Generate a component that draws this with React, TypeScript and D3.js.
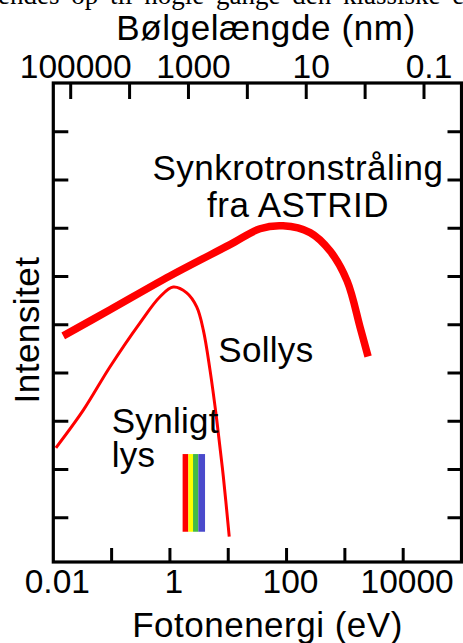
import React from "react";
import * as d3 from "d3";

// Photon energy (eV) and relative log-intensity (arbitrary units)
const synchrotronEnergy = [0.0148, 0.094, 1.0, 10.7, 35, 87, 253, 557, 1091, 1824, 2500];
const synchrotronIntensity = [4.77, 5.31, 6.01, 6.66, 6.99, 7.05, 6.91, 6.53, 5.91, 4.95, 4.34];

const sunEnergy = [0.0111, 0.0327, 0.094, 0.307, 0.676, 1.14, 1.94, 2.88, 3.74, 4.87, 6.35, 8.24, 10.4];
const sunIntensity = [2.45, 3.23, 4.13, 5.04, 5.58, 5.78, 5.66, 5.37, 4.89, 4.06, 3.03, 1.85, 0.61];

// visible-light band (eV edges of the colour stripes) and its intensity extent
const visibleEdges = [1.65, 2.07, 2.49, 3.07, 4.0];
const visibleColors = ["#ff0000", "#ffff00", "#44bb44", "#4a4acc"];
const visibleRange = [0.71, 2.32];

const energyTicks = [0.01, 0.1, 1, 10, 100, 1000, 10000];
const energyLabels = ["0.01", "1", "100", "10000"];
const wavelengthTicks = [100000, 10000, 1000, 100, 10, 1, 0.1];
const wavelengthLabels = ["100000", "1000", "10", "0.1"];
const intensityTicks = [1, 2, 3, 4, 5, 6, 7, 8, 9];

const W = 463;
const H = 643;
const left = 53.3;
const right = 461.5;
const top = 83;
const bottom = 562;
const font = "'Liberation Sans', Arial, Helvetica, sans-serif";

export default function App() {
  const x = d3.scaleLog().domain([0.01, 100000]).range([left, right]);
  const xTop = d3.scaleLog().domain([100000, 0.1]).range([70.7, 424]);
  const y = d3.scaleLinear().domain([0, 10]).range([566, 83.5]);

  const line = d3
    .line<[number, number]>()
    .x((d) => x(d[0]))
    .y((d) => y(d[1]))
    .curve(d3.curveCatmullRom.alpha(0.5));

  const synPts = synchrotronEnergy.map((e, i) => [e, synchrotronIntensity[i]] as [number, number]);
  const sunPts = sunEnergy.map((e, i) => [e, sunIntensity[i]] as [number, number]);

  const tickLen = 14;
  const textStyle = { fontFamily: font, fill: "#000" } as React.CSSProperties;

  return (
    <div>
      <style>{`body{margin:0;background:#fff}`}</style>
      <svg width={W} height={H} style={{ display: "block" }}>
        <rect x={0} y={0} width={W} height={H} fill="#fff" />
        {/* cut-off line of body text at the very top */}
        <text
          x={-2}
          y={3.5}
          fontFamily="'Liberation Serif', 'Times New Roman', serif"
          fontSize={27}
          wordSpacing={5}
          fill="#000"
        >
          endes op til nogle gange den klassiske en
        </text>

        {/* top axis title */}
        <text x={266} y={40} textAnchor="middle" fontSize={35} letterSpacing={0.6} style={textStyle}>
          Bølgelængde (nm)
        </text>
        {/* top tick labels */}
        {wavelengthLabels.map((l) => (
          <text key={"tl" + l} x={xTop(+l) + 5} y={78.3} textAnchor="middle" fontSize={33.5} style={textStyle}>
            {l}
          </text>
        ))}

        {/* frame */}
        <rect
          x={left}
          y={top}
          width={right - left}
          height={bottom - top}
          fill="none"
          stroke="#000"
          strokeWidth={3.2}
        />

        {/* top ticks */}
        {wavelengthTicks.map((t) => (
          <line key={"tt" + t} x1={xTop(t)} x2={xTop(t)} y1={top} y2={top + 16} stroke="#000" strokeWidth={3} />
        ))}
        {/* bottom ticks */}
        {energyTicks.slice(1).map((t) => (
          <line key={"bt" + t} x1={x(t)} x2={x(t)} y1={bottom} y2={bottom - tickLen} stroke="#000" strokeWidth={3} />
        ))}
        {/* left & right ticks */}
        {intensityTicks.map((t) => (
          <g key={"yt" + t}>
            <line x1={left} x2={left + tickLen + 1} y1={y(t)} y2={y(t)} stroke="#000" strokeWidth={3} />
            <line x1={right} x2={right - tickLen} y1={y(t)} y2={y(t)} stroke="#000" strokeWidth={3} />
          </g>
        ))}

        {/* bottom tick labels */}
        {energyLabels.map((l) => (
          <text key={"bl" + l} x={x(+l) + 4} y={592.7} textAnchor="middle" fontSize={33.5} style={textStyle}>
            {l}
          </text>
        ))}
        {/* bottom axis title */}
        <text x={267.5} y={637.3} textAnchor="middle" fontSize={35} letterSpacing={0.5} style={textStyle}>
          Fotonenergi (eV)
        </text>

        {/* y axis title */}
        <text
          transform={`translate(39,330) rotate(-90)`}
          textAnchor="middle"
          fontSize={35}
          letterSpacing={0.5}
          style={textStyle}
        >
          Intensitet
        </text>

        {/* visible band */}
        {visibleColors.map((c, i) => (
          <rect
            key={"vb" + i}
            x={x(visibleEdges[i])}
            y={y(visibleRange[1])}
            width={x(visibleEdges[i + 1]) - x(visibleEdges[i])}
            height={y(visibleRange[0]) - y(visibleRange[1])}
            fill={c}
          />
        ))}

        {/* curves */}
        <path d={line(sunPts) || ""} fill="none" stroke="#ff0000" strokeWidth={3} />
        <path d={line(synPts) || ""} fill="none" stroke="#ff0000" strokeWidth={7.5} strokeLinecap="butt" />

        {/* annotations */}
        <text x={298} y={180} textAnchor="middle" fontSize={35} letterSpacing={0.5} style={textStyle}>
          Synkrotronstråling
        </text>
        <text x={298} y={216.7} textAnchor="middle" fontSize={35} letterSpacing={0.5} style={textStyle}>
          fra ASTRID
        </text>
        <text x={218.3} y={361.7} fontSize={35} letterSpacing={0.3} style={textStyle}>
          Sollys
        </text>
        <text x={111.7} y={433.3} fontSize={35} letterSpacing={0.3} style={textStyle}>
          Synligt
        </text>
        <text x={111.7} y={466.7} fontSize={35} letterSpacing={0.3} style={textStyle}>
          lys
        </text>
      </svg>
    </div>
  );
}
